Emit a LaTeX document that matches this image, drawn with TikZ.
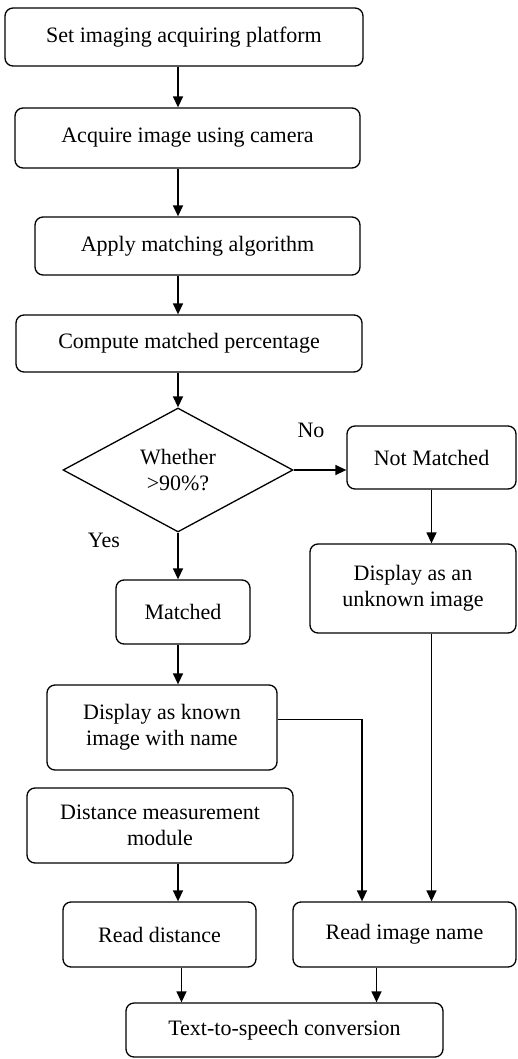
\documentclass[tikz,border=0pt]{standalone}
\usepackage{fontspec}
\setmainfont{Liberation Serif}
\usetikzlibrary{shapes.geometric,arrows.meta,positioning,calc}

\tikzset{
    procbox/.style={draw,line width=1.3pt,rounded corners=8pt,align=center,inner sep=2pt},
    decbox/.style={draw,diamond,line width=1.3pt,align=center,inner sep=0pt},
    arr/.style={line width=1.4pt,-{Triangle[length=11pt,width=10pt]}}
}

\begin{document}
\begin{tikzpicture}[x=1pt,y=-1pt,font=\fontsize{22}{26}\selectfont]
    \useasboundingbox (0,0) rectangle (517,1059);

    % Main sequence
    \node[procbox,minimum width=358pt,minimum height=58pt] (setup) at (184,37) {Set imaging acquiring platform};
    \node[procbox,minimum width=345pt,minimum height=60pt] (acquire) at (187.5,138) {Acquire image using camera};
    \node[procbox,minimum width=325pt,minimum height=58pt] (algo) at (197.5,246) {Apply matching algorithm};
    \node[procbox,minimum width=346pt,minimum height=57pt] (percent) at (189,343.5) {Compute matched percentage};
    \node[decbox,minimum width=230pt,minimum height=124pt] (check) at (178,470) {Whether\\>90\%?};

    % Branches
    \node[procbox,minimum width=169pt,minimum height=63pt] (notmatched) at (431.5,457.5) {Not Matched};
    \node[procbox,minimum width=206pt,minimum height=89pt] (unknown) at (413,588.5) {Display as an\\unknown image};
    \node[procbox,minimum width=134pt,minimum height=64pt] (matched) at (183,612) {Matched};
    \node[procbox,minimum width=230pt,minimum height=85pt] (known) at (162,727.5) {Display as known\\image with name};
    \node[procbox,minimum width=266pt,minimum height=75pt] (distmod) at (160,825.5) {Distance measurement\\module};
    \node[procbox,minimum width=193pt,minimum height=65pt] (readdist) at (159.5,934.5) {Read distance};
    \node[procbox,minimum width=223pt,minimum height=65pt] (readname) at (404.5,934.5) {Read image name};
    \node[procbox,minimum width=317pt,minimum height=54pt] (speech) at (284.5,1030) {Text-to-speech conversion};

    % Labels
    \node (nolabel) at (311,430) {No};
    \node (yeslabel) at (104,540) {Yes};

    % Connectors
    \draw[arr] (setup.south -| check.north) -- (acquire.north -| check.north);
    \draw[arr] (acquire.south -| check.north) -- (algo.north -| check.north);
    \draw[arr] (algo.south -| check.north) -- (percent.north -| check.north);
    \draw[arr] (percent.south -| check.north) -- (check.north);
    \draw[arr] (check.east) -- (check.east -| notmatched.west);
    \draw[arr] (check.south) -- (matched.north -| check.south);
    \draw[arr] (notmatched.south) -- (unknown.north -| notmatched.south);
    \draw[arr] (matched.south -| check.south) -- (known.north -| check.south);
    \draw[arr] ([yshift=8pt]known.east) -| ([xshift=-42.5pt]readname.north);
    \draw[arr] (unknown.south -| notmatched.south) -- (readname.north -| notmatched.south);
    \draw[arr] (distmod.south -| check.south) -- (readdist.north -| check.south);
    \draw[arr] ([xshift=22pt]readdist.south) -- ([xshift=22pt]readdist.south |- speech.north);
    \draw[arr] ([xshift=-28pt]readname.south) -- ([xshift=-28pt]readname.south |- speech.north);
\end{tikzpicture}
\end{document}
